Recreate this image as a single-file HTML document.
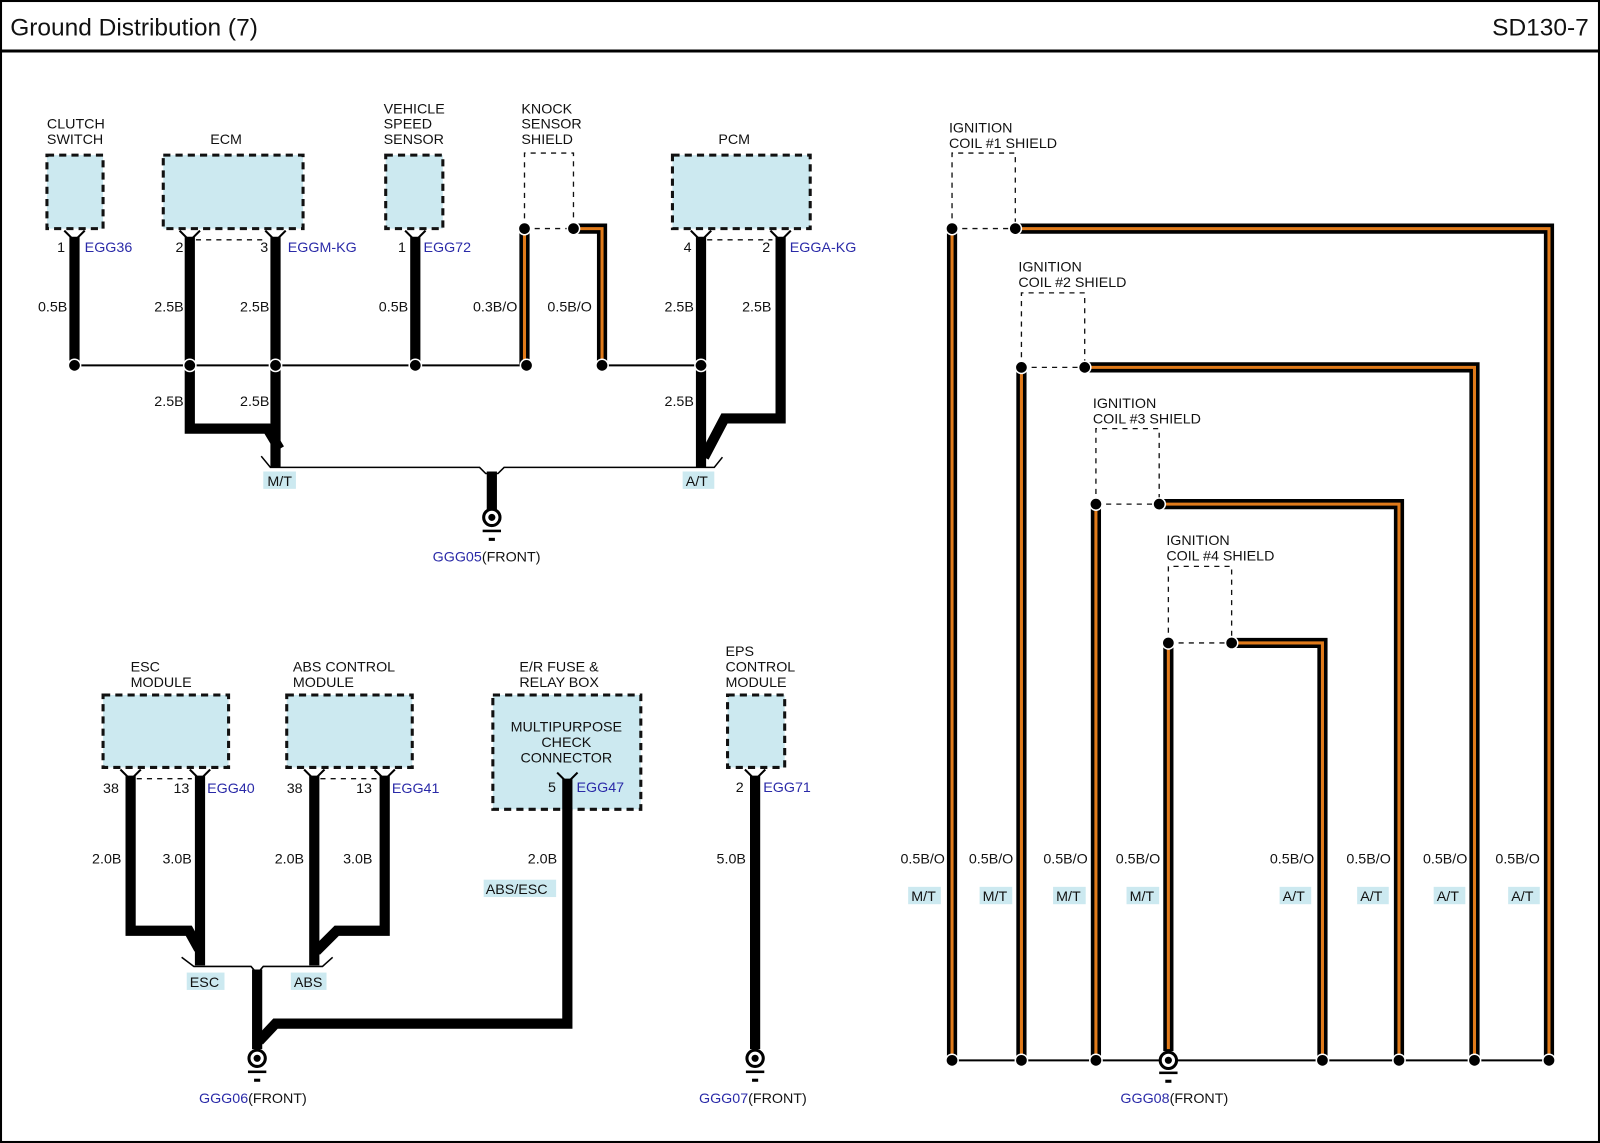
<!DOCTYPE html>
<html><head><meta charset="utf-8"><style>
html,body{margin:0;padding:0;background:#fff}
svg{display:block}
text{font-family:"Liberation Sans",sans-serif;font-size:14px;fill:#111}
.b{fill:#2a2aa8}
.box{fill:#cce9f0;stroke:#111;stroke-width:3;stroke-dasharray:7 5}
.sh{fill:none;stroke:#111;stroke-width:1.3;stroke-dasharray:5 5}
.w{fill:none;stroke:#000;stroke-width:10;stroke-linejoin:miter}
.o{fill:none;stroke:#e07a1a;stroke-width:3}
.t{fill:none;stroke:#000;stroke-width:2}
.lb{fill:#cce9f0}
</style></head><body>
<svg width="1600" height="1143" viewBox="0 0 1568 1120" preserveAspectRatio="none" xmlns="http://www.w3.org/2000/svg">
<rect x="1" y="1" width="1566" height="1118" fill="#fff" stroke="#000" stroke-width="2"/>
<line x1="0" y1="50" x2="1568" y2="50" stroke="#000" stroke-width="3"/>
<text x="10" y="35" style="font-size:24px">Ground Distribution (7)</text>
<text x="1557" y="35" text-anchor="end" style="font-size:24px">SD130-7</text>

<text x="46" y="126">CLUTCH</text><text x="46" y="141">SWITCH</text>
<rect class="box" x="46" y="152" width="55" height="72"/>
<text x="206" y="141">ECM</text>
<rect class="box" x="160" y="152" width="137" height="72"/>
<text x="376" y="111">VEHICLE</text><text x="376" y="126">SPEED</text><text x="376" y="141">SENSOR</text>
<rect class="box" x="378" y="152" width="56" height="72"/>
<text x="511" y="111">KNOCK</text><text x="511" y="126">SENSOR</text><text x="511" y="141">SHIELD</text>
<path class="sh" d="M514 224 V150 H562 V224 M514 224 H562"/>
<text x="704" y="141">PCM</text>
<rect class="box" x="659" y="152" width="135" height="72"/>

<g class="t">
<polyline points="63,226 73,236 83,226"/>
<polyline points="176,226 186,236 196,226"/>
<polyline points="260,226 270,236 280,226"/>
<polyline points="397,226 407,236 417,226"/>
<polyline points="677,226 687,236 697,226"/>
<polyline points="755,226 765,236 775,226"/>
</g>
<path class="sh" d="M192 235 H262 M693 235 H757"/>

<path class="w" d="M73 232 V358"/>
<path class="w" d="M186 232 V420 H262 L274 440"/>
<path class="w" d="M270 232 V458"/>
<path class="w" d="M407 232 V358"/>
<path class="w" d="M687 232 V458"/>
<path class="w" d="M765 232 V410 H710 L690 448"/>
<path class="w" d="M514 224 V358"/><path class="o" d="M514 226 V356"/>
<path class="w" d="M562 224 H590 V358"/><path class="o" d="M564 224 H590 V356"/>
<line x1="73" y1="358" x2="514" y2="358" stroke="#000" stroke-width="2"/>
<line x1="590" y1="358" x2="687" y2="358" stroke="#000" stroke-width="2"/>
<g fill="#000" stroke="#fff" stroke-width="1.5">
<circle cx="73" cy="358" r="6"/><circle cx="186" cy="358" r="6"/><circle cx="270" cy="358" r="6"/>
<circle cx="407" cy="358" r="6"/><circle cx="516" cy="358" r="6"/><circle cx="590" cy="358" r="6"/>
<circle cx="687" cy="358" r="6"/><circle cx="514" cy="224" r="6"/><circle cx="562" cy="224" r="6"/>
</g>
<path class="t" d="M256 447 L265 458 H470 L476 464 H488 L494 458 H700 L708 448" style="stroke-width:1.5"/>
<path class="w" d="M482 462 V500"/>
<g><circle cx="482" cy="507" r="8" fill="#fff" stroke="#000" stroke-width="3"/><circle cx="482" cy="507" r="3.5" fill="#000"/>
<rect x="473" y="519" width="18" height="2.5" fill="#000"/><rect x="479" y="527" width="6" height="3" fill="#000"/></g>
<rect class="lb" x="258" y="462" width="32" height="17"/><text x="262" y="476">M/T</text>
<rect class="lb" x="669" y="462" width="31" height="17"/><text x="672" y="476">A/T</text>
<text x="424" y="550"><tspan class="b">GGG05</tspan>(FRONT)</text>

<text x="56" y="247">1</text><text x="83" y="247" class="b">EGG36</text>
<text x="172" y="247">2</text><text x="255" y="247">3</text><text x="282" y="247" class="b">EGGM-KG</text>
<text x="390" y="247">1</text><text x="415" y="247" class="b">EGG72</text>
<text x="670" y="247">4</text><text x="747" y="247">2</text><text x="774" y="247" class="b">EGGA-KG</text>
<g text-anchor="end">
<text x="66" y="305">0.5B</text><text x="180" y="305">2.5B</text><text x="264" y="305">2.5B</text>
<text x="400" y="305">0.5B</text><text x="507" y="305">0.3B/O</text><text x="580" y="305">0.5B/O</text>
<text x="680" y="305">2.5B</text><text x="756" y="305">2.5B</text>
<text x="180" y="398">2.5B</text><text x="264" y="398">2.5B</text><text x="680" y="398">2.5B</text>
</g>

<text x="930" y="130">IGNITION</text><text x="930" y="145">COIL #1 SHIELD</text>
<path class="sh" d="M933 224 V150 H995 V224 M933 224 H995"/>
<text x="998" y="266">IGNITION</text><text x="998" y="281">COIL #2 SHIELD</text>
<path class="sh" d="M1001 360 V287 H1063 V360 M1001 360 H1063"/>
<text x="1071" y="400">IGNITION</text><text x="1071" y="415">COIL #3 SHIELD</text>
<path class="sh" d="M1074 494 V420 H1136 V494 M1074 494 H1136"/>
<text x="1143" y="534">IGNITION</text><text x="1143" y="549">COIL #4 SHIELD</text>
<path class="sh" d="M1145 630 V555 H1207 V630 M1145 630 H1207"/>

<g>
<path class="w" d="M995 224 H1518 V1038"/><path class="o" d="M997 224 H1518 V1036"/>
<path class="w" d="M933 224 V1038"/><path class="o" d="M933 226 V1036"/>
<path class="w" d="M1063 360 H1445 V1038"/><path class="o" d="M1065 360 H1445 V1036"/>
<path class="w" d="M1001 360 V1038"/><path class="o" d="M1001 362 V1036"/>
<path class="w" d="M1136 494 H1371 V1038"/><path class="o" d="M1138 494 H1371 V1036"/>
<path class="w" d="M1074 494 V1038"/><path class="o" d="M1074 496 V1036"/>
<path class="w" d="M1207 630 H1296 V1038"/><path class="o" d="M1209 630 H1296 V1036"/>
<path class="w" d="M1145 630 V1030"/><path class="o" d="M1145 632 V1028"/>
</g>
<line x1="933" y1="1039" x2="1518" y2="1039" stroke="#000" stroke-width="2"/>
<g fill="#000" stroke="#fff" stroke-width="1.5">
<circle cx="933" cy="224" r="6"/><circle cx="995" cy="224" r="6"/>
<circle cx="1001" cy="360" r="6"/><circle cx="1063" cy="360" r="6"/>
<circle cx="1074" cy="494" r="6"/><circle cx="1136" cy="494" r="6"/>
<circle cx="1145" cy="630" r="6"/><circle cx="1207" cy="630" r="6"/>
<circle cx="933" cy="1039" r="6"/><circle cx="1001" cy="1039" r="6"/><circle cx="1074" cy="1039" r="6"/>
<circle cx="1296" cy="1039" r="6"/><circle cx="1371" cy="1039" r="6"/><circle cx="1445" cy="1039" r="6"/><circle cx="1518" cy="1039" r="6"/>
</g>
<g><circle cx="1145" cy="1039" r="8" fill="#fff" stroke="#000" stroke-width="3"/><circle cx="1145" cy="1039" r="3.5" fill="#000"/>
<rect x="1136" y="1050" width="18" height="2.5" fill="#000"/><rect x="1142" y="1058" width="6" height="3" fill="#000"/></g>
<text x="1098" y="1081"><tspan class="b">GGG08</tspan>(FRONT)</text>
<g text-anchor="end">
<text x="926" y="846">0.5B/O</text><text x="993" y="846">0.5B/O</text><text x="1066" y="846">0.5B/O</text><text x="1137" y="846">0.5B/O</text>
<text x="1288" y="846">0.5B/O</text><text x="1363" y="846">0.5B/O</text><text x="1438" y="846">0.5B/O</text><text x="1509" y="846">0.5B/O</text>
</g>
<g>
<rect class="lb" x="890" y="869" width="32" height="17"/><text x="893" y="883">M/T</text>
<rect class="lb" x="960" y="869" width="32" height="17"/><text x="963" y="883">M/T</text>
<rect class="lb" x="1032" y="869" width="32" height="17"/><text x="1035" y="883">M/T</text>
<rect class="lb" x="1104" y="869" width="32" height="17"/><text x="1107" y="883">M/T</text>
<rect class="lb" x="1254" y="869" width="31" height="17"/><text x="1257" y="883">A/T</text>
<rect class="lb" x="1330" y="869" width="31" height="17"/><text x="1333" y="883">A/T</text>
<rect class="lb" x="1405" y="869" width="31" height="17"/><text x="1408" y="883">A/T</text>
<rect class="lb" x="1478" y="869" width="31" height="17"/><text x="1481" y="883">A/T</text>
</g>

<text x="128" y="658">ESC</text><text x="128" y="673">MODULE</text>
<rect class="box" x="101" y="681" width="123" height="71"/>
<text x="287" y="658">ABS CONTROL</text><text x="287" y="673">MODULE</text>
<rect class="box" x="281" y="681" width="123" height="71"/>
<text x="509" y="658">E/R FUSE &amp;</text><text x="509" y="673">RELAY BOX</text>
<rect class="box" x="483" y="681" width="145" height="112"/>
<text x="555" y="717" text-anchor="middle">MULTIPURPOSE</text><text x="555" y="732" text-anchor="middle">CHECK</text><text x="555" y="747" text-anchor="middle">CONNECTOR</text>
<text x="711" y="643">EPS</text><text x="711" y="658">CONTROL</text><text x="711" y="673">MODULE</text>
<rect class="box" x="713" y="681" width="56" height="71"/>
<g class="t">
<polyline points="118,754 128,764 138,754"/><polyline points="186,754 196,764 206,754"/>
<polyline points="298,754 308,764 318,754"/><polyline points="367,754 377,764 387,754"/>
<polyline points="546,757 556,767 566,757"/><polyline points="730,754 740,764 750,754"/>
</g>
<path class="sh" d="M134 763 H188 M314 763 H369"/>
<path class="w" d="M128 760 V912 H185 L195 930"/>
<path class="w" d="M196 760 V946"/>
<path class="w" d="M308 760 V946"/>
<path class="w" d="M377 760 V912 H330 L310 932"/>
<path class="w" d="M556 763 V1003 H270 L254 1020"/>
<path class="w" d="M252 950 V1028"/>
<path class="w" d="M740 760 V1028"/>
<path class="t" d="M178 938 L190 947 H246 L252 954 L258 947 H316 L326 938" style="stroke-width:1.5"/>
<g><circle cx="252" cy="1037" r="8" fill="#fff" stroke="#000" stroke-width="3"/><circle cx="252" cy="1037" r="3.5" fill="#000"/>
<rect x="243" y="1049" width="18" height="2.5" fill="#000"/><rect x="249" y="1057" width="6" height="3" fill="#000"/></g>
<g><circle cx="740" cy="1037" r="8" fill="#fff" stroke="#000" stroke-width="3"/><circle cx="740" cy="1037" r="3.5" fill="#000"/>
<rect x="731" y="1049" width="18" height="2.5" fill="#000"/><rect x="737" y="1057" width="6" height="3" fill="#000"/></g>
<rect class="lb" x="183" y="953" width="37" height="17"/><text x="186" y="967">ESC</text>
<rect class="lb" x="285" y="953" width="35" height="17"/><text x="288" y="967">ABS</text>
<rect class="lb" x="474" y="862" width="71" height="17"/><text x="476" y="876">ABS/ESC</text>
<text x="195" y="1081"><tspan class="b">GGG06</tspan>(FRONT)</text>
<text x="685" y="1081"><tspan class="b">GGG07</tspan>(FRONT)</text>
<text x="101" y="777">38</text><text x="170" y="777">13</text><text x="203" y="777" class="b">EGG40</text>
<text x="281" y="777">38</text><text x="349" y="777">13</text><text x="384" y="777" class="b">EGG41</text>
<text x="537" y="776">5</text><text x="565" y="776" class="b">EGG47</text>
<text x="721" y="776">2</text><text x="748" y="776" class="b">EGG71</text>
<g text-anchor="end">
<text x="119" y="846">2.0B</text><text x="188" y="846">3.0B</text><text x="298" y="846">2.0B</text><text x="365" y="846">3.0B</text>
<text x="546" y="846">2.0B</text><text x="731" y="846">5.0B</text>
</g>
</svg>
</body></html>
